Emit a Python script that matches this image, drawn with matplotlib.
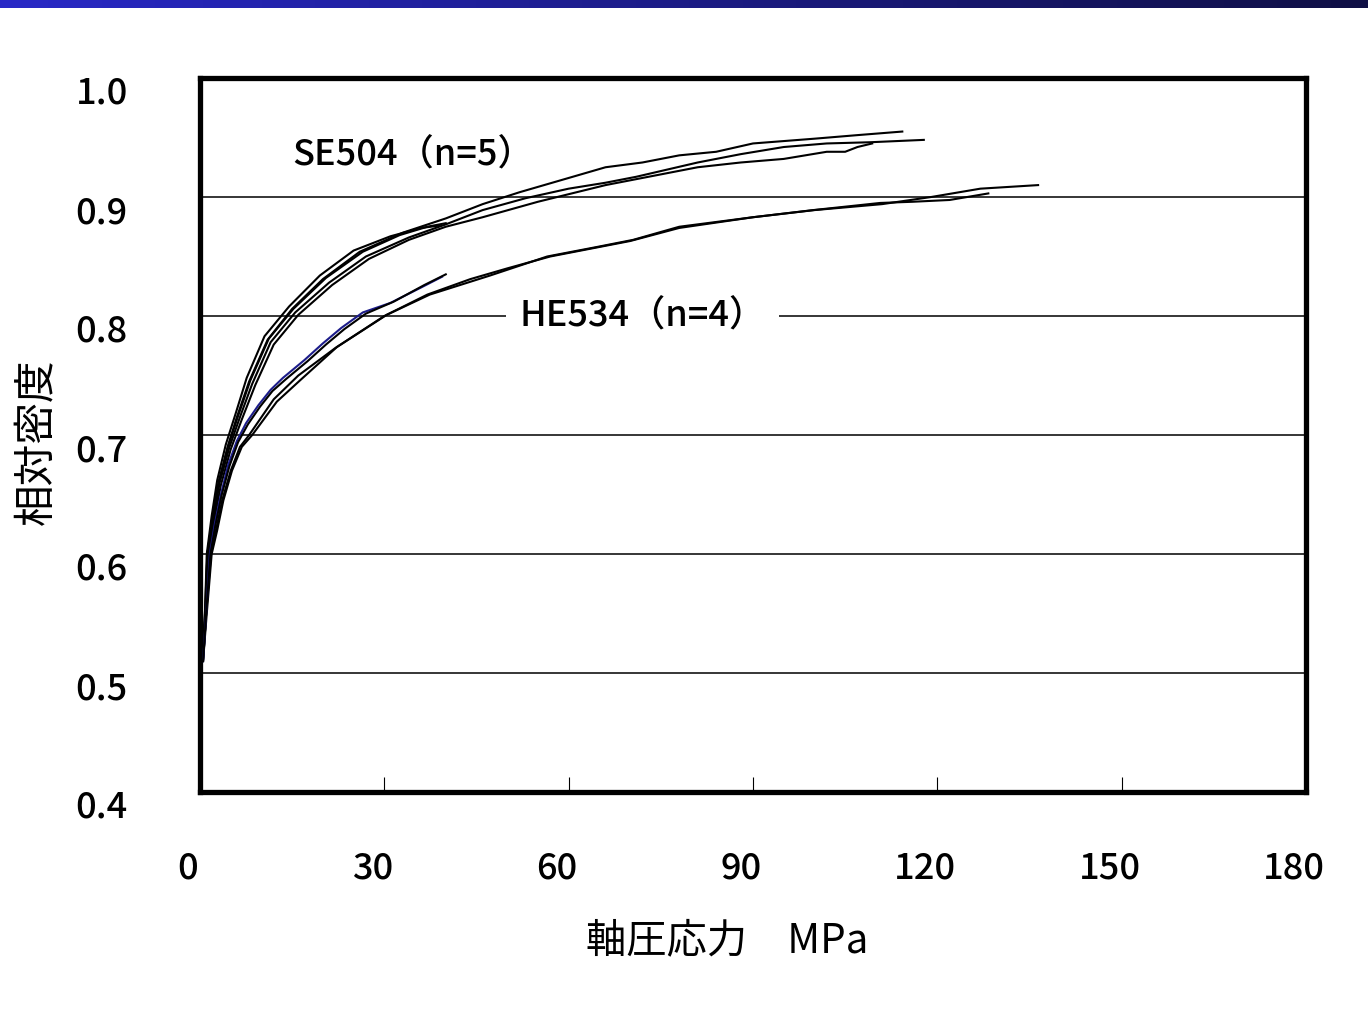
import numpy as np
import matplotlib
matplotlib.use("Agg")
import matplotlib.pyplot as plt
import matplotlib.transforms as mtransforms
from matplotlib.ticker import FormatStrFormatter

plt.rcParams['font.family'] = ['Noto Sans CJK JP', 'DejaVu Sans']
plt.rcParams['font.weight'] = 'medium'

# SE504 specimens (axial stress MPa, relative density)
se_a_x = [0.4, 0.8, 1.2, 2.0, 3.0, 4.5, 6.0, 8.0, 11.0, 15.0, 20.0, 26.0, 33.0, 40.0,
          46.0, 52.0, 58.0, 66.0, 72.0, 78.0, 84.0, 90.0, 100.0, 107.0, 114.3]
se_a_y = [0.515, 0.55, 0.60, 0.63, 0.66, 0.69, 0.715, 0.745, 0.78, 0.806, 0.831, 0.854,
          0.870, 0.882, 0.894, 0.904, 0.913, 0.925, 0.929, 0.935, 0.938, 0.945, 0.949,
          0.952, 0.955]
se_b_x = [0.4, 0.9, 1.3, 2.2, 3.2, 4.8, 6.5, 8.5, 11.5, 15.5, 21.0, 27.0, 34.0, 40.0,
          46.0, 53.0, 60.0, 66.0, 71.0, 76.0, 81.0, 88.0, 95.0, 102.0, 109.0, 117.8]
se_b_y = [0.512, 0.55, 0.60, 0.63, 0.66, 0.69, 0.715, 0.743, 0.778, 0.803, 0.828, 0.850,
          0.866, 0.877, 0.889, 0.899, 0.907, 0.912, 0.917, 0.923, 0.929, 0.936, 0.942,
          0.945, 0.946, 0.948]
se_c_x = [0.5, 1.0, 1.4, 2.3, 3.4, 5.0, 6.8, 9.0, 12.0, 16.0, 21.5, 27.5, 34.0, 40.0,
          46.0, 55.0, 66.0, 74.0, 81.0, 88.0, 95.0, 102.0, 105.0, 107.0, 109.4]
se_c_y = [0.512, 0.55, 0.60, 0.628, 0.658, 0.688, 0.713, 0.742, 0.776, 0.801, 0.826,
          0.848, 0.864, 0.875, 0.883, 0.896, 0.910, 0.918, 0.925, 0.929, 0.932, 0.938,
          0.938, 0.942, 0.945]
se_d_x = [0.4, 0.8, 1.1, 1.9, 2.8, 4.2, 5.8, 7.6, 10.5, 14.5, 19.5, 25.0, 31.0, 36.0, 39.0]
se_d_y = [0.515, 0.55, 0.60, 0.632, 0.662, 0.692, 0.718, 0.748, 0.783, 0.808, 0.834,
          0.855, 0.867, 0.874, 0.876]
se_e_x = [0.4, 0.9, 1.2, 2.1, 3.1, 4.6, 6.2, 8.2, 11.2, 15.2, 20.5, 26.5, 32.5, 37.0, 40.0]
se_e_y = [0.513, 0.55, 0.60, 0.631, 0.661, 0.691, 0.716, 0.746, 0.781, 0.806, 0.832,
          0.854, 0.868, 0.875, 0.878]

# HE534 specimens
he_a_x = [0.5, 1.0, 1.8, 2.6, 3.6, 5.0, 6.5, 8.0, 10.0, 12.0, 16.0, 22.0, 30.0, 37.0,
          44.0, 50.0, 57.0, 64.0, 70.0, 78.0, 90.0, 100.0, 111.0, 119.0, 127.0, 136.4]
he_a_y = [0.51, 0.55, 0.60, 0.62, 0.645, 0.67, 0.69, 0.70, 0.715, 0.73, 0.75, 0.773,
          0.80, 0.818, 0.831, 0.840, 0.850, 0.857, 0.863, 0.874, 0.883, 0.889, 0.894,
          0.900, 0.907, 0.910]
he_b_x = [0.5, 1.1, 1.9, 2.8, 3.8, 5.2, 6.8, 8.5, 10.5, 12.5, 16.3, 22.3, 30.4, 37.4,
          47.2, 56.5, 64.6, 70.5, 78.0, 90.0, 99.8, 110.7, 116.0, 122.0, 128.3]
he_b_y = [0.51, 0.55, 0.60, 0.62, 0.645, 0.67, 0.69, 0.70, 0.714, 0.728, 0.746, 0.774,
          0.801, 0.818, 0.834, 0.850, 0.858, 0.864, 0.875, 0.883, 0.889, 0.895, 0.896,
          0.8975, 0.903]
he_c_x = [0.5, 1.0, 1.6, 2.4, 3.4, 4.6, 6.0, 7.5, 9.5, 11.5, 13.5, 17.0, 20.0, 23.0,
          26.5, 31.0, 36.0, 39.4]
he_c_y = [0.51, 0.55, 0.60, 0.625, 0.65, 0.675, 0.695, 0.71, 0.725, 0.738, 0.748, 0.763,
          0.777, 0.790, 0.803, 0.811, 0.824, 0.833]
he_d_x = [0.5, 1.0, 1.7, 2.5, 3.5, 4.8, 6.2, 7.8, 9.8, 11.8, 14.0, 17.5, 20.5, 23.5,
          27.0, 31.5, 36.5, 40.0]
he_d_y = [0.51, 0.55, 0.60, 0.624, 0.649, 0.674, 0.694, 0.709, 0.724, 0.737, 0.747,
          0.762, 0.776, 0.789, 0.802, 0.812, 0.826, 0.835]

se_curves = [(se_a_x, se_a_y), (se_b_x, se_b_y), (se_c_x, se_c_y),
             (se_d_x, se_d_y), (se_e_x, se_e_y)]
he_curves = [(he_a_x, he_a_y), (he_b_x, he_b_y), (he_c_x, he_c_y), (he_d_x, he_d_y)]
he_colors = ['black', 'black', '#1c1c8a', 'black']

x_ticks = [0, 30, 60, 90, 120, 150, 180]
y_ticks = [0.4, 0.5, 0.6, 0.7, 0.8, 0.9, 1.0]

fig = plt.figure(figsize=(13.68, 10.29), dpi=100)

# gradient header bar
bar = fig.add_axes([0, 1 - 8 / 1029, 1, 8 / 1029])
grad = np.linspace(0, 1, 256)
c0 = np.array([0.16, 0.16, 0.78])
c1 = np.array([0.06, 0.06, 0.27])
img = (c0[None, :] * (1 - grad[:, None]) + c1[None, :] * grad[:, None])[None, :, :]
bar.imshow(img, aspect='auto', extent=[0, 1, 0, 1])
bar.axis('off')

ax = fig.add_axes([200 / 1368, 1 - 792 / 1029, 1106 / 1368, 714 / 1029])

for yv in y_ticks[1:-1]:
    ax.axhline(yv, color='black', lw=1.1, zorder=1)

for cx, cy in se_curves:
    ax.plot(cx, cy, color='black', lw=1.5, zorder=3)
for (cx, cy), col in zip(he_curves, he_colors):
    ax.plot(cx, cy, color=col, lw=1.5, zorder=3)

ax.text(15.0, 0.935, 'SE504（n=5）', fontsize=26, ha='left', va='center', zorder=4)
ax.text(52.0, 0.80, 'HE534（n=4）', fontsize=26, ha='left', va='center', zorder=4,
        bbox=dict(facecolor='white', edgecolor='none', pad=10))

ax.set_xlim(0, 180)
ax.set_ylim(0.4, 1.0)
ax.set_xticks(x_ticks)
ax.set_yticks(y_ticks)
ax.yaxis.set_major_formatter(FormatStrFormatter('%.1f'))

for side in ['left', 'right', 'top', 'bottom']:
    ax.spines[side].set_linewidth(3.8)
    ax.spines[side].set_color('black')

ax.tick_params(axis='x', direction='in', length=11, width=0.8, pad=42, labelsize=26)
ax.tick_params(axis='y', length=0, pad=52, labelsize=26)

# labels sit slightly left / below the tick positions
dx = mtransforms.ScaledTranslation(-12 / 100, 0, fig.dpi_scale_trans)
for lab in ax.get_xticklabels():
    lab.set_transform(lab.get_transform() + dx)
dy = mtransforms.ScaledTranslation(0, -12 / 100, fig.dpi_scale_trans)
for lab in ax.get_yticklabels():
    lab.set_transform(lab.get_transform() + dy)

ax.set_xlabel('軸圧応力　MPa', fontsize=29)
ax.xaxis.set_label_coords(0.4765, -0.18)
ax.set_ylabel('相対密度', fontsize=30)
ax.yaxis.set_label_coords(-0.128, 0.49)

fig.savefig('out.png', dpi=100)
